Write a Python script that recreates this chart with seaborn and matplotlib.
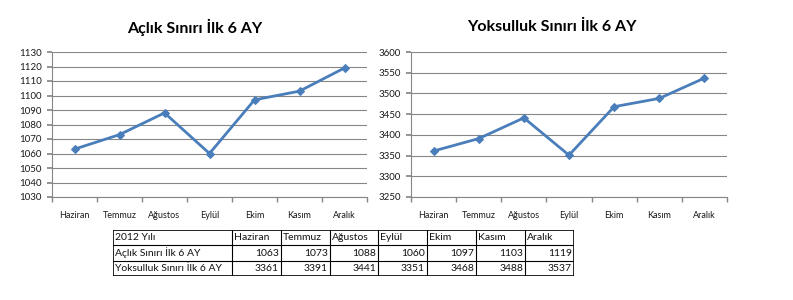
import matplotlib
matplotlib.use("Agg")
import matplotlib.pyplot as plt
import seaborn as sns
import pandas as pd
from matplotlib.ticker import FixedLocator, MultipleLocator

months = ["Haziran", "Temmuz", "Ağustos", "Eylül", "Ekim", "Kasım", "Aralık"]
aclik = [1063, 1073, 1088, 1060, 1097, 1103, 1119]
yoksulluk = [3361, 3391, 3441, 3351, 3468, 3488, 3537]
title_left = "Açlık Sınırı İlk 6 AY"
title_right = "Yoksulluk Sınırı İlk 6 AY"
table_header = "2012 Yılı"
row_labels = ["Açlık Sınırı İlk 6 AY", "Yoksulluk Sınırı İlk 6 AY"]

sns.set_theme(style="white")
plt.rcParams['font.family'] = ['Lato', 'DejaVu Sans']

W, H = 793, 300
fig = plt.figure(figsize=(W / 100, H / 100), dpi=100)

def px_axes(x0, y0, x1, y1):
    return fig.add_axes([x0 / W, 1 - y1 / H, (x1 - x0) / W, (y1 - y0) / H])

line_color = "#4A7EBB"
grid_color = "#868686"

def draw(ax, vals, ylim, step, title, title_x):
    df = pd.DataFrame({"month": months, "value": vals})
    sns.lineplot(data=df, x="month", y="value", ax=ax, color=line_color,
                 linewidth=2.0, marker="D", markersize=4.5,
                 markeredgecolor=line_color, sort=False)
    ax.set_xlim(-0.5, 6.5)
    ax.set_ylim(*ylim)
    ax.yaxis.set_major_locator(MultipleLocator(step))
    ax.xaxis.set_minor_locator(FixedLocator([i - 0.5 for i in range(8)]))
    ax.set_xlabel("")
    ax.set_ylabel("")
    ax.grid(axis="y", color=grid_color, linewidth=0.8)
    ax.set_axisbelow(True)
    for s in ["top", "right"]:
        ax.spines[s].set_visible(False)
    for s in ["left", "bottom"]:
        ax.spines[s].set_color(grid_color)
        ax.spines[s].set_linewidth(0.8)
    ax.tick_params(axis="x", which="major", length=0, labelsize=6.5,
                   pad=10, labelcolor="#1a1a1a")
    ax.tick_params(axis="x", which="minor", length=3.5, direction="out",
                   color=grid_color, bottom=True)
    ax.tick_params(axis="y", which="major", length=3.5, direction="out",
                   color=grid_color, left=True, labelsize=7, pad=4,
                   labelcolor="#1a1a1a")
    fig.text(title_x / W, 1 - 27 / H, title, ha="center", va="center",
             fontsize=11.5, fontweight="bold", color="#000000")

ax1 = px_axes(52, 52, 367, 197)
draw(ax1, aclik, (1030, 1130), 10, title_left, 195)
ax2 = px_axes(411, 52, 727, 197)
draw(ax2, yoksulluk, (3250, 3600), 50, title_right, 552)

# table
tax = px_axes(113, 230, 574, 276)
tax.set_axis_off()
col_edges = [113, 232, 281, 330, 378, 427, 476, 525, 574]
rows = [[table_header] + months,
        [row_labels[0]] + [str(v) for v in aclik],
        [row_labels[1]] + [str(v) for v in yoksulluk]]
x0t, x1t = 113, 574
row_h = (276 - 230) / 3
tax.set_xlim(x0t, x1t)
tax.set_ylim(276, 230)
for r, row in enumerate(rows):
    yc = 230 + row_h * (r + 0.5)
    for c, txt in enumerate(row):
        l, rgt = col_edges[c], col_edges[c + 1]
        if r == 0 or c == 0:
            tax.text(l + 2, yc, txt, ha="left", va="center", fontsize=7.5,
                     color="#111111")
        else:
            tax.text(rgt - 2, yc, txt, ha="right", va="center", fontsize=7.5,
                     color="#111111")
for e in col_edges:
    tax.plot([e, e], [230, 276], color="black", linewidth=0.8 if e not in (113, 574) else 1.2)
for k in range(4):
    y = 230 + row_h * k
    tax.plot([x0t, x1t], [y, y], color="black", linewidth=0.8 if k not in (0, 3) else 1.2)

fig.savefig("out.png", dpi=100, facecolor="white")
